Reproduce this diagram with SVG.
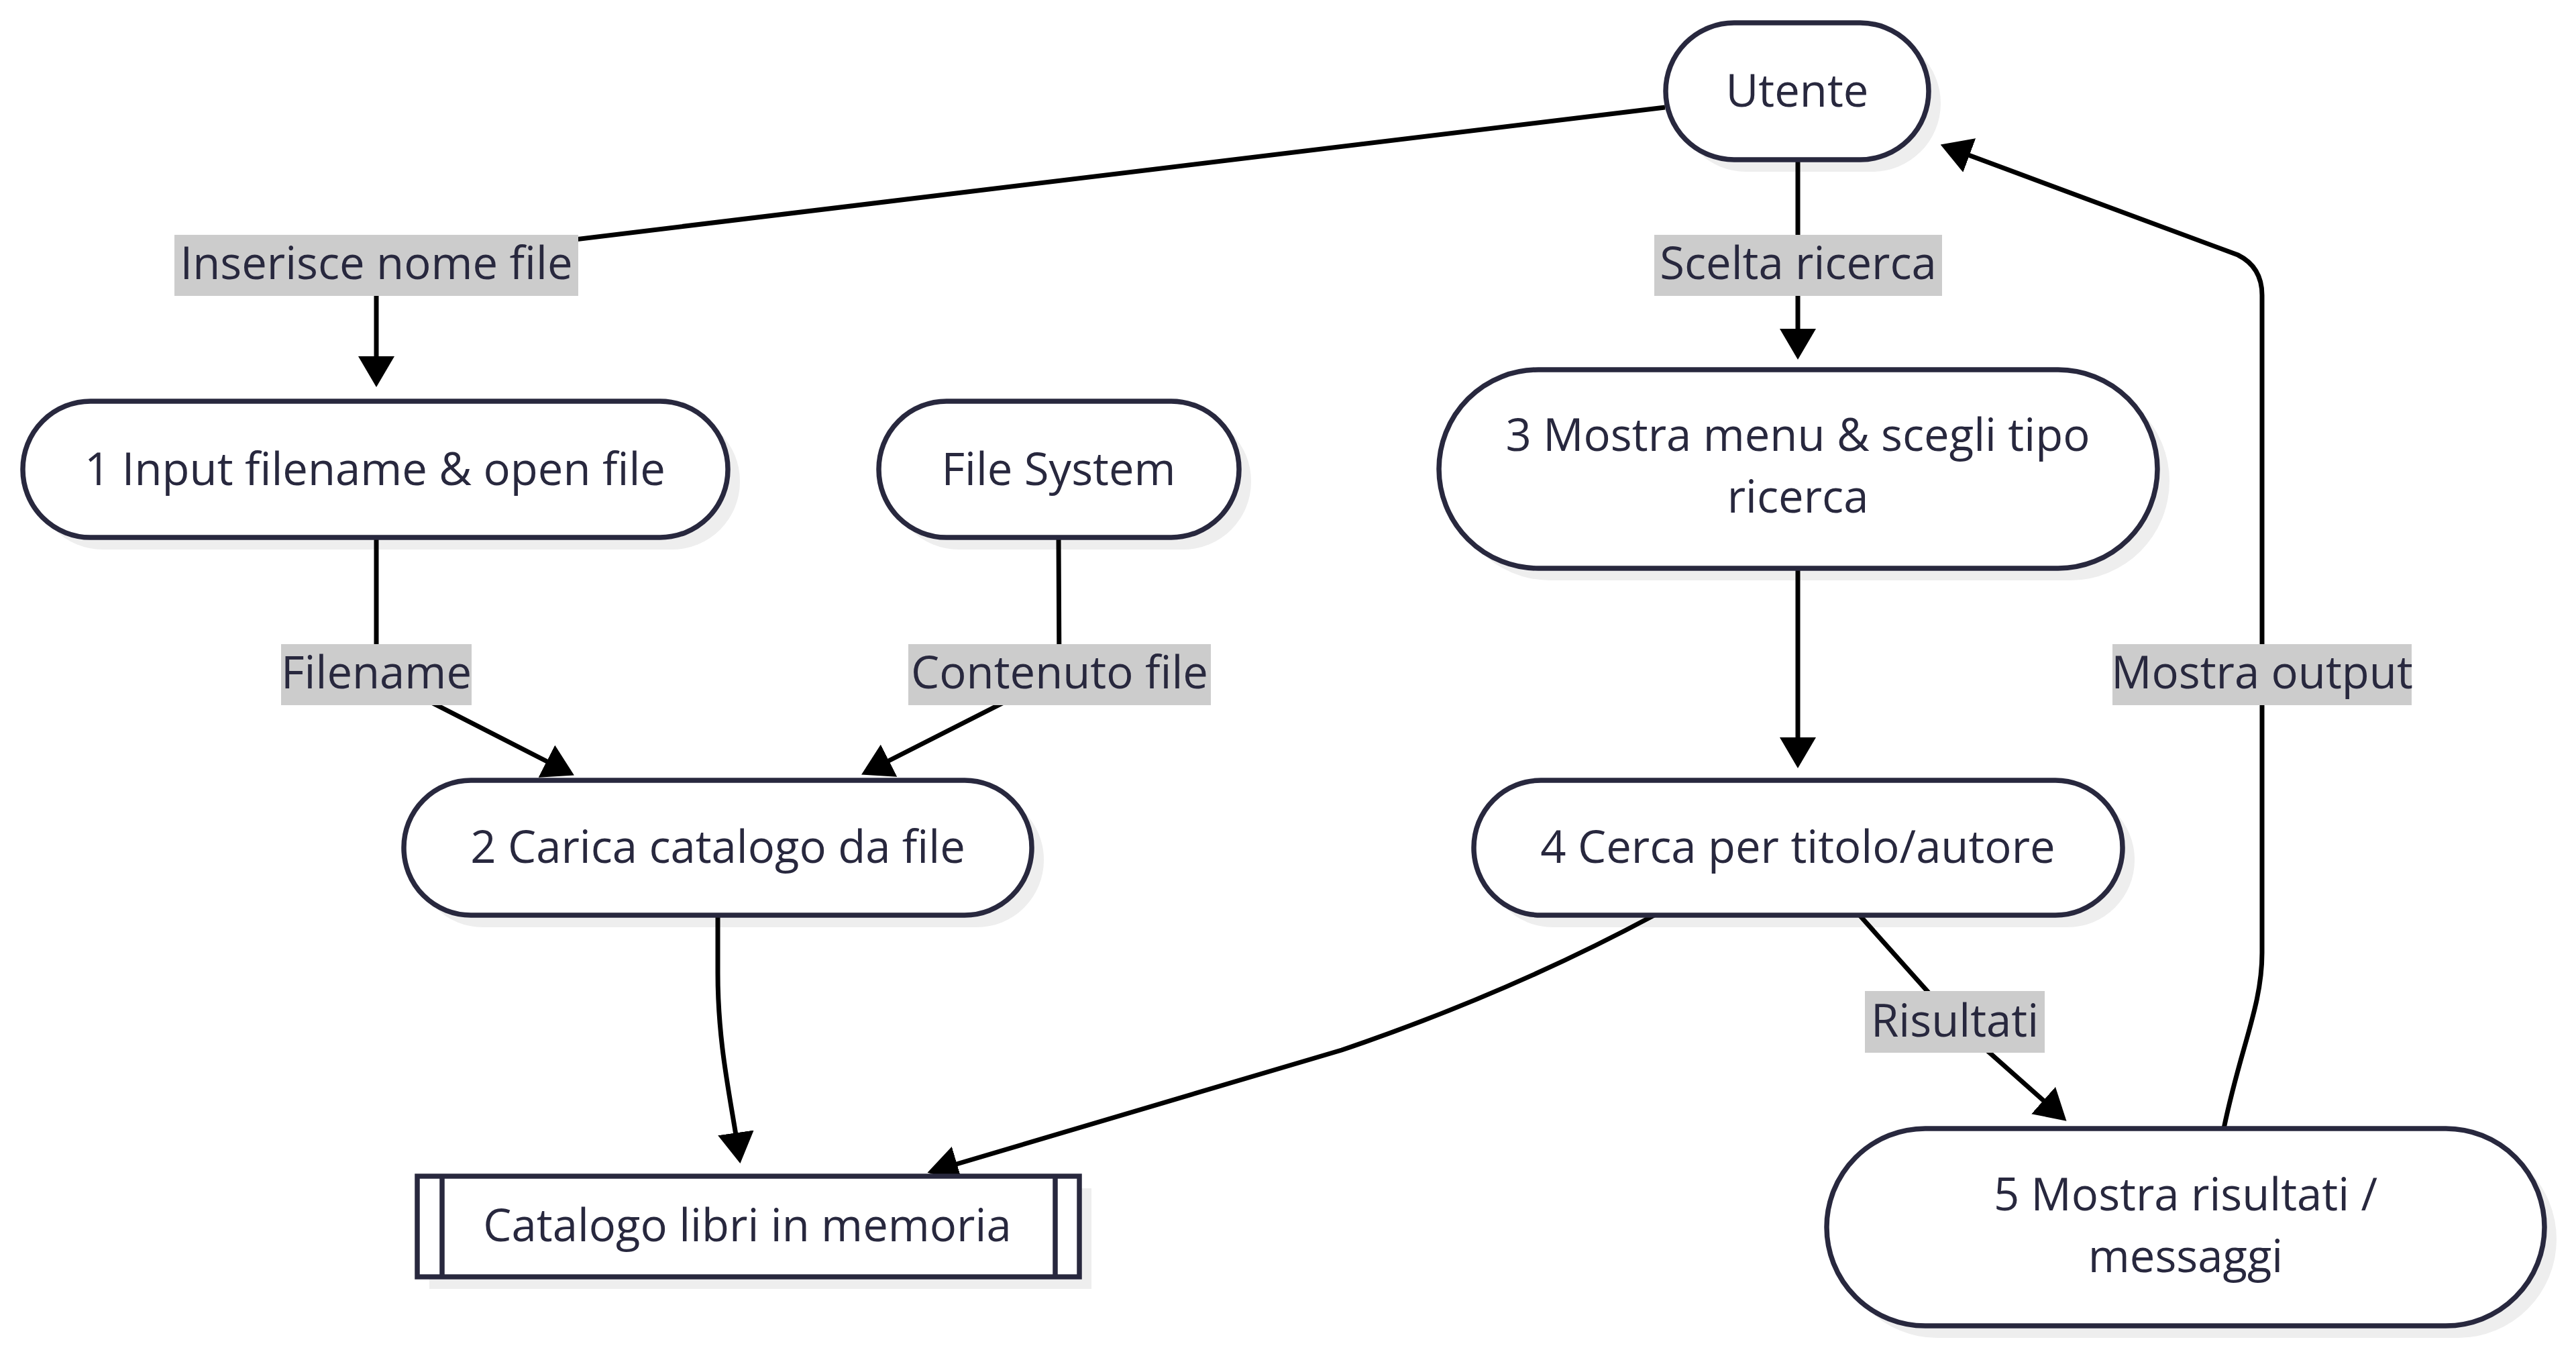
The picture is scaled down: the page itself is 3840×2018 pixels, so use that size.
<svg xmlns="http://www.w3.org/2000/svg" width="3840" height="2018" viewBox="0 0 3840 2018">
<defs>
<marker id="arrow" viewBox="0 0 46 54" refX="36" refY="27" markerWidth="46" markerHeight="54" markerUnits="userSpaceOnUse" orient="auto">
<path d="M0,0 L46,27 L0,54 z" fill="#000"/>
</marker>
</defs>
<style>
.node{fill:#fff;stroke:#28283e;stroke-width:7.5}
.shadow{fill:#eeeeee;stroke:none}
.edge{fill:none;stroke:#000;stroke-width:7;marker-end:url(#arrow)}
.lbl{fill:#cccccc}
text{font-family:"Open Sans","Noto Sans","DejaVu Sans",sans-serif;font-size:67px;fill:#28283e;text-anchor:middle}
</style>
<rect width="3840" height="2018" fill="#fff"/>
<g id="shadows">
<rect class="shadow" x="2501" y="52" width="392" height="204" rx="102" ry="102"/>
<rect class="shadow" x="52" y="616" width="1051" height="203" rx="101" ry="101"/>
<rect class="shadow" x="1328" y="616" width="537" height="203" rx="101" ry="101"/>
<rect class="shadow" x="2163" y="569" width="1071" height="296" rx="148" ry="148"/>
<rect class="shadow" x="620" y="1181" width="936" height="201" rx="100" ry="100"/>
<rect class="shadow" x="2215" y="1181" width="967" height="201" rx="100" ry="100"/>
<rect class="shadow" x="640" y="1771" width="987" height="150"/>
<rect class="shadow" x="2741" y="1700" width="1070" height="294" rx="147" ry="147"/>
</g>
<g id="connectors">
<path class="edge" d="M2482,160 L650,382 Q561,393 561,440 L561,567"/>
<path class="edge" d="M2680,238 L2680,526"/>
<path class="edge" d="M561,801 L561,1005 L847,1151"/>
<path class="edge" d="M1578,801 L1579,1005 L1293,1150"/>
<path class="edge" d="M1070,1364 L1070,1450 C1070,1560 1090,1640 1102,1724"/>
<path class="edge" d="M2466,1364 Q2250,1480 2000,1565 L1392,1745"/>
<path class="edge" d="M2680,847 L2680,1135"/>
<path class="edge" d="M2772,1364 L2914,1523 L3073,1664"/>
<path class="edge" d="M3315,1682 C3340,1560 3372,1500 3372,1420 L3372,440 Q3372,398 3336,380 L2902,219"/>
</g>
<g id="edge-labels">
<g id="label-inserisce"><rect class="lbl" x="260" y="350" width="602" height="91"/><text x="561" y="416">Inserisce nome file</text></g>
<g id="label-scelta"><rect class="lbl" x="2466" y="350" width="429" height="91"/><text x="2680.5" y="416">Scelta ricerca</text></g>
<g id="label-filename"><rect class="lbl" x="419" y="960" width="284" height="91"/><text x="561" y="1026">Filename</text></g>
<g id="label-contenuto"><rect class="lbl" x="1354" y="960" width="451" height="91"/><text x="1579.5" y="1026">Contenuto file</text></g>
<g id="label-mostra-output"><rect class="lbl" x="3149" y="960" width="446" height="91"/><text x="3372" y="1026">Mostra output</text></g>
<g id="label-risultati"><rect class="lbl" x="2780" y="1477" width="268" height="92"/><text x="2914" y="1545">Risultati</text></g>
</g>
<g id="node-utente">
<rect class="node" x="2483" y="34" width="392" height="204" rx="102" ry="102"/>
<text x="2679" y="159">Utente</text>
</g>
<g id="node-1">
<rect class="node" x="34" y="598" width="1051" height="203" rx="101" ry="101"/>
<text x="559" y="723">1 Input filename &amp; open file</text>
</g>
<g id="node-filesystem">
<rect class="node" x="1310" y="598" width="537" height="203" rx="101" ry="101"/>
<text x="1578" y="723">File System</text>
</g>
<g id="node-3">
<rect class="node" x="2145" y="551" width="1071" height="296" rx="148" ry="148"/>
<text x="2680" y="672">3 Mostra menu &amp; scegli tipo</text>
<text x="2680" y="764">ricerca</text>
</g>
<g id="node-2">
<rect class="node" x="602" y="1163" width="936" height="201" rx="100" ry="100"/>
<text x="1070" y="1286">2 Carica catalogo da file</text>
</g>
<g id="node-4">
<rect class="node" x="2197" y="1163" width="967" height="201" rx="100" ry="100"/>
<text x="2680" y="1286">4 Cerca per titolo/autore</text>
</g>
<g id="node-catalogo">
<rect class="node" x="622" y="1753" width="987" height="150"/>
<line x1="659" y1="1753" x2="659" y2="1903" stroke="#28283e" stroke-width="7.5"/>
<line x1="1573" y1="1753" x2="1573" y2="1903" stroke="#28283e" stroke-width="7.5"/>
<text x="1114" y="1850">Catalogo libri in memoria</text>
</g>
<g id="node-5">
<rect class="node" x="2723" y="1682" width="1070" height="294" rx="147" ry="147"/>
<text x="3258" y="1804">5 Mostra risultati /</text>
<text x="3258" y="1896">messaggi</text>
</g>
</svg>
